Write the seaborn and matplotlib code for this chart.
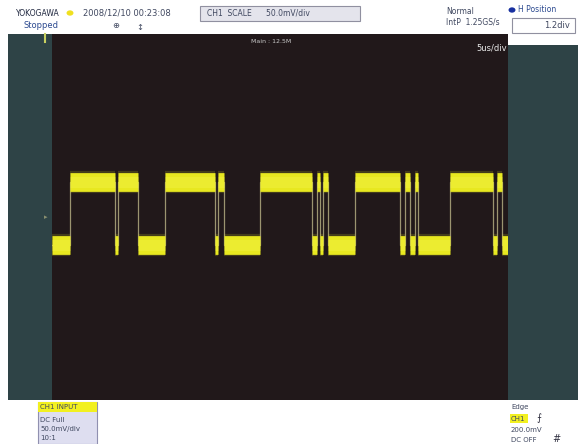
import matplotlib
matplotlib.use("Agg")
import matplotlib.pyplot as plt
import seaborn as sns
import pandas as pd
from matplotlib.patches import Rectangle, Circle

# ---------------- data ----------------
edge_times_us = [-25.0, -23.03, -18.09, -17.76, -15.57, -12.61, -7.13, -6.80, -6.14,
                 -2.19, 3.51, 4.06, 4.39, 4.71, 5.26, 8.22, 13.16, 13.71, 14.25,
                 14.80, 15.13, 18.64, 23.36, 23.79, 24.34, 25.0]
interval_states = ["L", "H", "L", "H", "L", "H", "L", "H", "L", "H", "L", "H", "L",
                   "H", "L", "H", "L", "H", "L", "H", "L", "H", "L", "H", "L"]
level_mv = {"H": 38.0, "L": -31.0}
x_limits_us = [-25.0, 25.0]
y_limits_mv = [-200.0, 200.0]

W, H = 578, 444
fig = plt.figure(figsize=(W / 100, H / 100), dpi=100)
fig.patch.set_facecolor("white")

def fx(px):
    return px / W

def fy(py):
    return 1 - py / H

# side panels
teal = "#2e4346"
fig.patches.append(Rectangle((fx(8), fy(400)), fx(44), 366 / H, transform=fig.transFigure,
                             facecolor=teal, edgecolor="none", zorder=0))
fig.patches.append(Rectangle((fx(508), fy(400)), fx(70), 355 / H, transform=fig.transFigure,
                             facecolor=teal, edgecolor="none", zorder=0))

ax = fig.add_axes([fx(52), fy(400), fx(456), 366 / H])
ax.set_facecolor("#21181a")

# build segments
rows_band, rows_trace = [], []
for i, st in enumerate(interval_states):
    t0, t1 = edge_times_us[i], edge_times_us[i + 1]
    v = level_mv[st]
    rows_band.append({"seg": i, "t": t0, "v": v, "state": st})
    rows_band.append({"seg": i, "t": t1, "v": v, "state": st})
    rows_trace.append({"t": t0, "v": v})
    rows_trace.append({"t": t1, "v": v})
band_df = pd.DataFrame(rows_band)
trace_df = pd.DataFrame(rows_trace)

# thin transition trace
sns.lineplot(data=trace_df, x="t", y="v", sort=False, estimator=None, ax=ax,
             color="#a9a27a", linewidth=0.9, alpha=0.9)
# soft fuzzy edge
sns.lineplot(data=band_df, x="t", y="v", units="seg", estimator=None, ax=ax,
             color="#e0e020", linewidth=16, alpha=0.18, solid_capstyle="butt")
# main bands
sns.lineplot(data=band_df, x="t", y="v", units="seg", estimator=None, ax=ax,
             color="#e8e820", linewidth=13.5, solid_capstyle="butt")
sns.lineplot(data=band_df, x="t", y="v", units="seg", estimator=None, ax=ax,
             color="#f4f450", linewidth=8, alpha=0.35, solid_capstyle="butt")

ax.set_xlim(*x_limits_us)
ax.set_ylim(*y_limits_mv)
ax.set_xticks([]); ax.set_yticks([])
ax.set_xlabel(""); ax.set_ylabel("")
for s in ax.spines.values():
    s.set_visible(False)
if ax.get_legend():
    ax.get_legend().remove()

ax.text(0.48, 0.985, "Main : 12.5M", transform=ax.transAxes, ha="center", va="top",
        fontsize=4.5, color="#c8c8c8")
ax.text(0.998, 0.975, "5us/div", transform=ax.transAxes, ha="right", va="top",
        fontsize=6, color="#e8e8e8")

# ---------------- header ----------------
def ftext(px, py, s, **kw):
    fig.text(fx(px), fy(py), s, **kw)

ftext(16, 13, "YOKOGAWA", fontsize=5.5, color="#202840", va="center")
fig.patches.append(Circle((fx(70), fy(13)), 0.006, transform=fig.transFigure,
                          facecolor="#f0e020", edgecolor="none"))
ftext(83, 13, "2008/12/10 00:23:08", fontsize=6, color="#404860", va="center")
ftext(24, 25, "Stopped", fontsize=6, color="#2c4a90", va="center")
ftext(112, 26, "⊕", fontsize=6, color="#404860", va="center")
ftext(136, 27, "↕", fontsize=6, color="#404860", va="center")

fig.patches.append(Rectangle((fx(200), fy(21)), fx(160), 15 / H, transform=fig.transFigure,
                             facecolor="#e4e4ec", edgecolor="#9090a0", linewidth=0.8))
ftext(207, 13.5, "CH1  SCALE      50.0mV/div", fontsize=5.5, color="#404860", va="center")

ftext(446, 11, "Normal", fontsize=5.5, color="#404860", va="center")
ftext(446, 22, "IntP  1.25GS/s", fontsize=5.5, color="#404860", va="center")

fig.patches.append(Circle((fx(512), fy(10)), 0.006, transform=fig.transFigure,
                          facecolor="#1830a0", edgecolor="none"))
ftext(518, 10, "H Position", fontsize=5.5, color="#2c4a90", va="center")
fig.patches.append(Rectangle((fx(512), fy(33)), fx(63), 15 / H, transform=fig.transFigure,
                             facecolor="white", edgecolor="#9090a0", linewidth=0.8))
ftext(570, 25.5, "1.2div", fontsize=6, color="#404860", va="center", ha="right")

# small markers on panels
fig.lines.append(plt.Line2D([fx(45), fx(45)], [fy(34), fy(42)], transform=fig.transFigure,
                            color="#c8d060", linewidth=1.5))
ftext(44, 217, "▸", fontsize=5, color="#8a9070", va="center")

# ---------------- footer ----------------
fig.patches.append(Rectangle((fx(38), fy(444)), fx(59), 42 / H, transform=fig.transFigure,
                             facecolor="#dedef0", edgecolor="#9090b0", linewidth=0.8))
fig.patches.append(Rectangle((fx(38), fy(412)), fx(59), 10 / H, transform=fig.transFigure,
                             facecolor="#f2f020", edgecolor="none"))
ftext(40, 407, "CH1 INPUT", fontsize=5, color="#404860", va="center")
ftext(40, 420, "DC Full", fontsize=5, color="#404860", va="center")
ftext(40, 429, "50.0mV/div", fontsize=5, color="#404860", va="center")
ftext(40, 438, "10:1", fontsize=5, color="#404860", va="center")

ftext(511, 407, "Edge", fontsize=5, color="#404860", va="center")
fig.patches.append(Rectangle((fx(510), fy(423)), fx(18), 9 / H, transform=fig.transFigure,
                             facecolor="#f2f020", edgecolor="none"))
ftext(511, 418.5, "CH1", fontsize=5, color="#404860", va="center")
ftext(536, 418, "⨍", fontsize=7, color="#303040", va="center")
ftext(511, 430, "200.0mV", fontsize=5, color="#404860", va="center")
ftext(511, 440, "DC OFF", fontsize=5, color="#404860", va="center")
ftext(552, 439, "#", fontsize=7, color="#303040", va="center", style="italic")

fig.savefig("out.png", dpi=100, facecolor=fig.get_facecolor())
